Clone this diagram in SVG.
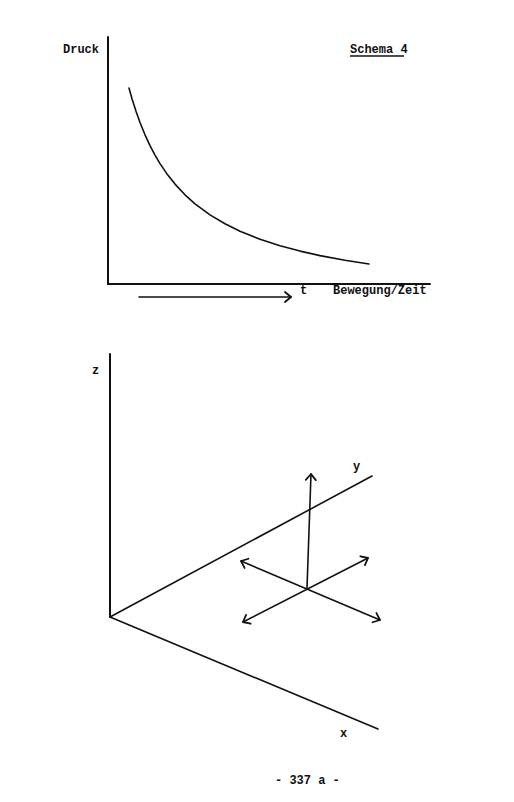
<svg xmlns="http://www.w3.org/2000/svg" width="514" height="802" viewBox="0 0 514 802">
<style>
.ax{stroke:#111;stroke-width:2;fill:none;stroke-linecap:round}
.ln{stroke:#111;stroke-width:1.6;fill:none;stroke-linecap:round;stroke-linejoin:round}
.tx{font-family:"Liberation Mono","DejaVu Sans Mono",monospace;font-weight:bold;font-size:12px;fill:#111}
</style>
<defs>
<marker id="ah" markerUnits="userSpaceOnUse" markerWidth="14" markerHeight="14" refX="0" refY="0" viewBox="-8 -7 10 14" orient="auto-start-reverse">
<path d="M-6,-5 L0,0 L-6,5" fill="none" stroke="#111" stroke-width="1.8" stroke-linecap="round" stroke-linejoin="round"/>
</marker>
</defs>
<rect width="514" height="802" fill="#fff"/>
<g id="chart1">
<text class="tx" x="63" y="53">Druck</text>
<g id="title"><text class="tx" x="350" y="53">Schema 4</text><line x1="350" y1="56" x2="404" y2="56" stroke="#111" stroke-width="1.4"/></g>
<line class="ax" x1="108" y1="37" x2="108" y2="284"/>
<line class="ax" x1="108" y1="284" x2="430" y2="284"/>
<polyline class="ln" points="129,88 132,98.7 136,111.3 140,122.5 145,134.8 150,145.6 155,155.1 160,163.6 167,173.9 175,184.1 185,194.8 195,203.8 210,214.9 225,223.8 240,231.2 260,239.2 280,245.7 300,251.1 320,255.6 345,260.3 369,264"/>
<line class="ln" x1="139" y1="297" x2="291" y2="297" marker-end="url(#ah)"/>
<text class="tx" x="300" y="294">t</text>
<text class="tx" x="333" y="294">Bewegung/Zeit</text>
</g>
<g id="chart2">
<line class="ax" x1="110" y1="354" x2="110" y2="617"/>
<line class="ln" x1="110" y1="617" x2="372" y2="476"/>
<line class="ln" x1="110" y1="617" x2="378" y2="729"/>
<text class="tx" x="92" y="374">z</text>
<text class="tx" x="353" y="470">y</text>
<text class="tx" x="340" y="737">x</text>
</g>
<g id="connectors">
<line class="ln" x1="307" y1="588" x2="311" y2="474" marker-end="url(#ah)"/>
<line class="ln" x1="241" y1="561" x2="380" y2="620" marker-start="url(#ah)" marker-end="url(#ah)"/>
<line class="ln" x1="243" y1="622" x2="368" y2="558" marker-start="url(#ah)" marker-end="url(#ah)"/>
</g>
<text class="tx" x="275" y="784">- 337 a -</text>
</svg>
